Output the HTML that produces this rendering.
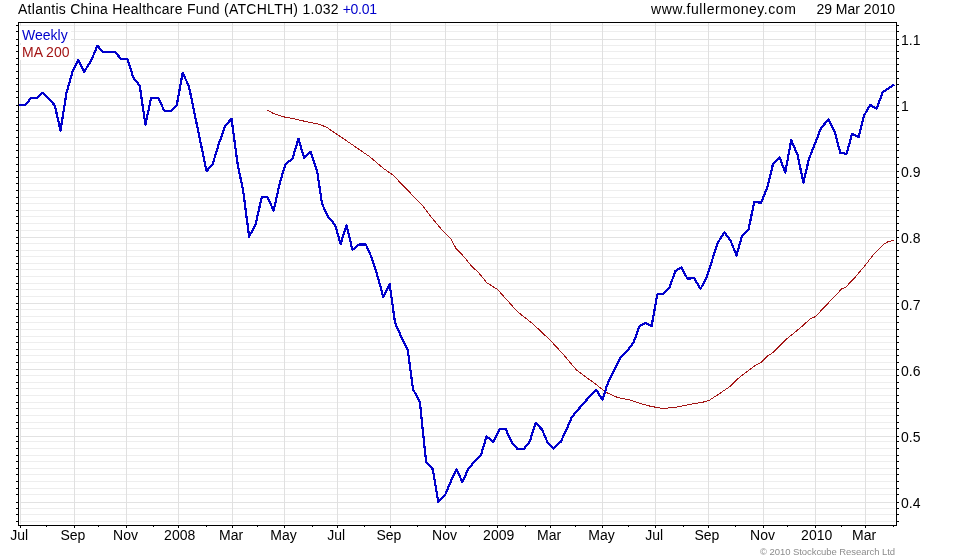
<!DOCTYPE html>
<html><head><meta charset="utf-8"><title>chart</title>
<style>
html,body{margin:0;padding:0;background:#fff;}
body{width:980px;height:560px;overflow:hidden;position:relative;font-family:"Liberation Sans",sans-serif;}
svg{position:absolute;left:0;top:0;display:block;will-change:transform}
text{font-family:"Liberation Sans",sans-serif;font-size:14px;fill:#000}
.g1{stroke:#eeeeee;stroke-width:1;shape-rendering:crispEdges}
.g2{stroke:#e2e2e2;stroke-width:1;shape-rendering:crispEdges}
.gv{stroke:#e0e0e0;stroke-width:1;shape-rendering:crispEdges}
.ax{stroke:#000;stroke-width:1;shape-rendering:crispEdges;fill:none}
</style></head><body>
<svg width="980" height="560" viewBox="0 0 980 560">
<rect x="0" y="0" width="980" height="560" fill="#fff"/>

<line class="g1" x1="21" x2="895" y1="521.5" y2="521.5"/>
<line class="g1" x1="21" x2="895" y1="514.5" y2="514.5"/>
<line class="g1" x1="21" x2="895" y1="508.5" y2="508.5"/>
<line class="g2" x1="21" x2="895" y1="502.5" y2="502.5"/>
<line class="g1" x1="21" x2="895" y1="494.5" y2="494.5"/>
<line class="g1" x1="21" x2="895" y1="488.5" y2="488.5"/>
<line class="g1" x1="21" x2="895" y1="481.5" y2="481.5"/>
<line class="g1" x1="21" x2="895" y1="474.5" y2="474.5"/>
<line class="g1" x1="21" x2="895" y1="468.5" y2="468.5"/>
<line class="g1" x1="21" x2="895" y1="461.5" y2="461.5"/>
<line class="g1" x1="21" x2="895" y1="455.5" y2="455.5"/>
<line class="g1" x1="21" x2="895" y1="448.5" y2="448.5"/>
<line class="g1" x1="21" x2="895" y1="441.5" y2="441.5"/>
<line class="g2" x1="21" x2="895" y1="436.5" y2="436.5"/>
<line class="g1" x1="21" x2="895" y1="428.5" y2="428.5"/>
<line class="g1" x1="21" x2="895" y1="422.5" y2="422.5"/>
<line class="g1" x1="21" x2="895" y1="415.5" y2="415.5"/>
<line class="g1" x1="21" x2="895" y1="408.5" y2="408.5"/>
<line class="g1" x1="21" x2="895" y1="402.5" y2="402.5"/>
<line class="g1" x1="21" x2="895" y1="395.5" y2="395.5"/>
<line class="g1" x1="21" x2="895" y1="388.5" y2="388.5"/>
<line class="g1" x1="21" x2="895" y1="382.5" y2="382.5"/>
<line class="g1" x1="21" x2="895" y1="375.5" y2="375.5"/>
<line class="g2" x1="21" x2="895" y1="369.5" y2="369.5"/>
<line class="g1" x1="21" x2="895" y1="362.5" y2="362.5"/>
<line class="g1" x1="21" x2="895" y1="355.5" y2="355.5"/>
<line class="g1" x1="21" x2="895" y1="349.5" y2="349.5"/>
<line class="g1" x1="21" x2="895" y1="342.5" y2="342.5"/>
<line class="g1" x1="21" x2="895" y1="336.5" y2="336.5"/>
<line class="g1" x1="21" x2="895" y1="329.5" y2="329.5"/>
<line class="g1" x1="21" x2="895" y1="322.5" y2="322.5"/>
<line class="g1" x1="21" x2="895" y1="316.5" y2="316.5"/>
<line class="g1" x1="21" x2="895" y1="309.5" y2="309.5"/>
<line class="g2" x1="21" x2="895" y1="303.5" y2="303.5"/>
<line class="g1" x1="21" x2="895" y1="296.5" y2="296.5"/>
<line class="g1" x1="21" x2="895" y1="289.5" y2="289.5"/>
<line class="g1" x1="21" x2="895" y1="283.5" y2="283.5"/>
<line class="g1" x1="21" x2="895" y1="276.5" y2="276.5"/>
<line class="g1" x1="21" x2="895" y1="269.5" y2="269.5"/>
<line class="g1" x1="21" x2="895" y1="263.5" y2="263.5"/>
<line class="g1" x1="21" x2="895" y1="256.5" y2="256.5"/>
<line class="g1" x1="21" x2="895" y1="250.5" y2="250.5"/>
<line class="g1" x1="21" x2="895" y1="243.5" y2="243.5"/>
<line class="g2" x1="21" x2="895" y1="237.5" y2="237.5"/>
<line class="g1" x1="21" x2="895" y1="230.5" y2="230.5"/>
<line class="g1" x1="21" x2="895" y1="223.5" y2="223.5"/>
<line class="g1" x1="21" x2="895" y1="216.5" y2="216.5"/>
<line class="g1" x1="21" x2="895" y1="210.5" y2="210.5"/>
<line class="g1" x1="21" x2="895" y1="203.5" y2="203.5"/>
<line class="g1" x1="21" x2="895" y1="197.5" y2="197.5"/>
<line class="g1" x1="21" x2="895" y1="190.5" y2="190.5"/>
<line class="g1" x1="21" x2="895" y1="183.5" y2="183.5"/>
<line class="g1" x1="21" x2="895" y1="177.5" y2="177.5"/>
<line class="g2" x1="21" x2="895" y1="171.5" y2="171.5"/>
<line class="g1" x1="21" x2="895" y1="164.5" y2="164.5"/>
<line class="g1" x1="21" x2="895" y1="157.5" y2="157.5"/>
<line class="g1" x1="21" x2="895" y1="150.5" y2="150.5"/>
<line class="g1" x1="21" x2="895" y1="144.5" y2="144.5"/>
<line class="g1" x1="21" x2="895" y1="137.5" y2="137.5"/>
<line class="g1" x1="21" x2="895" y1="130.5" y2="130.5"/>
<line class="g1" x1="21" x2="895" y1="124.5" y2="124.5"/>
<line class="g1" x1="21" x2="895" y1="117.5" y2="117.5"/>
<line class="g1" x1="21" x2="895" y1="111.5" y2="111.5"/>
<line class="g2" x1="21" x2="895" y1="105.5" y2="105.5"/>
<line class="g1" x1="21" x2="895" y1="97.5" y2="97.5"/>
<line class="g1" x1="21" x2="895" y1="91.5" y2="91.5"/>
<line class="g1" x1="21" x2="895" y1="84.5" y2="84.5"/>
<line class="g1" x1="21" x2="895" y1="78.5" y2="78.5"/>
<line class="g1" x1="21" x2="895" y1="71.5" y2="71.5"/>
<line class="g1" x1="21" x2="895" y1="64.5" y2="64.5"/>
<line class="g1" x1="21" x2="895" y1="58.5" y2="58.5"/>
<line class="g1" x1="21" x2="895" y1="51.5" y2="51.5"/>
<line class="g1" x1="21" x2="895" y1="45.5" y2="45.5"/>
<line class="g2" x1="21" x2="895" y1="39.5" y2="39.5"/>
<line class="g1" x1="21" x2="895" y1="31.5" y2="31.5"/>
<line class="g1" x1="21" x2="895" y1="25.5" y2="25.5"/>
<line class="gv" x1="20.5" x2="20.5" y1="23" y2="524"/>
<line class="gv" x1="74.5" x2="74.5" y1="23" y2="524"/>
<line class="gv" x1="126.5" x2="126.5" y1="23" y2="524"/>
<line class="gv" x1="178.5" x2="178.5" y1="23" y2="524"/>
<line class="gv" x1="232.5" x2="232.5" y1="23" y2="524"/>
<line class="gv" x1="284.5" x2="284.5" y1="23" y2="524"/>
<line class="gv" x1="337.5" x2="337.5" y1="23" y2="524"/>
<line class="gv" x1="390.5" x2="390.5" y1="23" y2="524"/>
<line class="gv" x1="445.5" x2="445.5" y1="23" y2="524"/>
<line class="gv" x1="497.5" x2="497.5" y1="23" y2="524"/>
<line class="gv" x1="550.5" x2="550.5" y1="23" y2="524"/>
<line class="gv" x1="602.5" x2="602.5" y1="23" y2="524"/>
<line class="gv" x1="655.5" x2="655.5" y1="23" y2="524"/>
<line class="gv" x1="708.5" x2="708.5" y1="23" y2="524"/>
<line class="gv" x1="763.5" x2="763.5" y1="23" y2="524"/>
<line class="gv" x1="815.5" x2="815.5" y1="23" y2="524"/>
<line class="gv" x1="865.5" x2="865.5" y1="23" y2="524"/>
<rect x="19" y="26" width="52" height="17" fill="#fff"/><rect x="19" y="45" width="54" height="15" fill="#fff"/>
<rect class="ax" x="18.5" y="22.5" width="878.0" height="503.0"/>
<line class="ax" x1="16" x2="18" y1="521.5" y2="521.5"/><line class="ax" x1="897" x2="899" y1="521.5" y2="521.5"/>
<line class="ax" x1="16" x2="18" y1="514.5" y2="514.5"/><line class="ax" x1="897" x2="899" y1="514.5" y2="514.5"/>
<line class="ax" x1="16" x2="18" y1="508.5" y2="508.5"/><line class="ax" x1="897" x2="899" y1="508.5" y2="508.5"/>
<line class="ax" x1="16" x2="18" y1="502.5" y2="502.5"/><line class="ax" x1="897" x2="899" y1="502.5" y2="502.5"/>
<line class="ax" x1="16" x2="18" y1="494.5" y2="494.5"/><line class="ax" x1="897" x2="899" y1="494.5" y2="494.5"/>
<line class="ax" x1="16" x2="18" y1="488.5" y2="488.5"/><line class="ax" x1="897" x2="899" y1="488.5" y2="488.5"/>
<line class="ax" x1="16" x2="18" y1="481.5" y2="481.5"/><line class="ax" x1="897" x2="899" y1="481.5" y2="481.5"/>
<line class="ax" x1="16" x2="18" y1="474.5" y2="474.5"/><line class="ax" x1="897" x2="899" y1="474.5" y2="474.5"/>
<line class="ax" x1="16" x2="18" y1="468.5" y2="468.5"/><line class="ax" x1="897" x2="899" y1="468.5" y2="468.5"/>
<line class="ax" x1="16" x2="18" y1="461.5" y2="461.5"/><line class="ax" x1="897" x2="899" y1="461.5" y2="461.5"/>
<line class="ax" x1="16" x2="18" y1="455.5" y2="455.5"/><line class="ax" x1="897" x2="899" y1="455.5" y2="455.5"/>
<line class="ax" x1="16" x2="18" y1="448.5" y2="448.5"/><line class="ax" x1="897" x2="899" y1="448.5" y2="448.5"/>
<line class="ax" x1="16" x2="18" y1="441.5" y2="441.5"/><line class="ax" x1="897" x2="899" y1="441.5" y2="441.5"/>
<line class="ax" x1="16" x2="18" y1="436.5" y2="436.5"/><line class="ax" x1="897" x2="899" y1="436.5" y2="436.5"/>
<line class="ax" x1="16" x2="18" y1="428.5" y2="428.5"/><line class="ax" x1="897" x2="899" y1="428.5" y2="428.5"/>
<line class="ax" x1="16" x2="18" y1="422.5" y2="422.5"/><line class="ax" x1="897" x2="899" y1="422.5" y2="422.5"/>
<line class="ax" x1="16" x2="18" y1="415.5" y2="415.5"/><line class="ax" x1="897" x2="899" y1="415.5" y2="415.5"/>
<line class="ax" x1="16" x2="18" y1="408.5" y2="408.5"/><line class="ax" x1="897" x2="899" y1="408.5" y2="408.5"/>
<line class="ax" x1="16" x2="18" y1="402.5" y2="402.5"/><line class="ax" x1="897" x2="899" y1="402.5" y2="402.5"/>
<line class="ax" x1="16" x2="18" y1="395.5" y2="395.5"/><line class="ax" x1="897" x2="899" y1="395.5" y2="395.5"/>
<line class="ax" x1="16" x2="18" y1="388.5" y2="388.5"/><line class="ax" x1="897" x2="899" y1="388.5" y2="388.5"/>
<line class="ax" x1="16" x2="18" y1="382.5" y2="382.5"/><line class="ax" x1="897" x2="899" y1="382.5" y2="382.5"/>
<line class="ax" x1="16" x2="18" y1="375.5" y2="375.5"/><line class="ax" x1="897" x2="899" y1="375.5" y2="375.5"/>
<line class="ax" x1="16" x2="18" y1="369.5" y2="369.5"/><line class="ax" x1="897" x2="899" y1="369.5" y2="369.5"/>
<line class="ax" x1="16" x2="18" y1="362.5" y2="362.5"/><line class="ax" x1="897" x2="899" y1="362.5" y2="362.5"/>
<line class="ax" x1="16" x2="18" y1="355.5" y2="355.5"/><line class="ax" x1="897" x2="899" y1="355.5" y2="355.5"/>
<line class="ax" x1="16" x2="18" y1="349.5" y2="349.5"/><line class="ax" x1="897" x2="899" y1="349.5" y2="349.5"/>
<line class="ax" x1="16" x2="18" y1="342.5" y2="342.5"/><line class="ax" x1="897" x2="899" y1="342.5" y2="342.5"/>
<line class="ax" x1="16" x2="18" y1="336.5" y2="336.5"/><line class="ax" x1="897" x2="899" y1="336.5" y2="336.5"/>
<line class="ax" x1="16" x2="18" y1="329.5" y2="329.5"/><line class="ax" x1="897" x2="899" y1="329.5" y2="329.5"/>
<line class="ax" x1="16" x2="18" y1="322.5" y2="322.5"/><line class="ax" x1="897" x2="899" y1="322.5" y2="322.5"/>
<line class="ax" x1="16" x2="18" y1="316.5" y2="316.5"/><line class="ax" x1="897" x2="899" y1="316.5" y2="316.5"/>
<line class="ax" x1="16" x2="18" y1="309.5" y2="309.5"/><line class="ax" x1="897" x2="899" y1="309.5" y2="309.5"/>
<line class="ax" x1="16" x2="18" y1="303.5" y2="303.5"/><line class="ax" x1="897" x2="899" y1="303.5" y2="303.5"/>
<line class="ax" x1="16" x2="18" y1="296.5" y2="296.5"/><line class="ax" x1="897" x2="899" y1="296.5" y2="296.5"/>
<line class="ax" x1="16" x2="18" y1="289.5" y2="289.5"/><line class="ax" x1="897" x2="899" y1="289.5" y2="289.5"/>
<line class="ax" x1="16" x2="18" y1="283.5" y2="283.5"/><line class="ax" x1="897" x2="899" y1="283.5" y2="283.5"/>
<line class="ax" x1="16" x2="18" y1="276.5" y2="276.5"/><line class="ax" x1="897" x2="899" y1="276.5" y2="276.5"/>
<line class="ax" x1="16" x2="18" y1="269.5" y2="269.5"/><line class="ax" x1="897" x2="899" y1="269.5" y2="269.5"/>
<line class="ax" x1="16" x2="18" y1="263.5" y2="263.5"/><line class="ax" x1="897" x2="899" y1="263.5" y2="263.5"/>
<line class="ax" x1="16" x2="18" y1="256.5" y2="256.5"/><line class="ax" x1="897" x2="899" y1="256.5" y2="256.5"/>
<line class="ax" x1="16" x2="18" y1="250.5" y2="250.5"/><line class="ax" x1="897" x2="899" y1="250.5" y2="250.5"/>
<line class="ax" x1="16" x2="18" y1="243.5" y2="243.5"/><line class="ax" x1="897" x2="899" y1="243.5" y2="243.5"/>
<line class="ax" x1="16" x2="18" y1="237.5" y2="237.5"/><line class="ax" x1="897" x2="899" y1="237.5" y2="237.5"/>
<line class="ax" x1="16" x2="18" y1="230.5" y2="230.5"/><line class="ax" x1="897" x2="899" y1="230.5" y2="230.5"/>
<line class="ax" x1="16" x2="18" y1="223.5" y2="223.5"/><line class="ax" x1="897" x2="899" y1="223.5" y2="223.5"/>
<line class="ax" x1="16" x2="18" y1="216.5" y2="216.5"/><line class="ax" x1="897" x2="899" y1="216.5" y2="216.5"/>
<line class="ax" x1="16" x2="18" y1="210.5" y2="210.5"/><line class="ax" x1="897" x2="899" y1="210.5" y2="210.5"/>
<line class="ax" x1="16" x2="18" y1="203.5" y2="203.5"/><line class="ax" x1="897" x2="899" y1="203.5" y2="203.5"/>
<line class="ax" x1="16" x2="18" y1="197.5" y2="197.5"/><line class="ax" x1="897" x2="899" y1="197.5" y2="197.5"/>
<line class="ax" x1="16" x2="18" y1="190.5" y2="190.5"/><line class="ax" x1="897" x2="899" y1="190.5" y2="190.5"/>
<line class="ax" x1="16" x2="18" y1="183.5" y2="183.5"/><line class="ax" x1="897" x2="899" y1="183.5" y2="183.5"/>
<line class="ax" x1="16" x2="18" y1="177.5" y2="177.5"/><line class="ax" x1="897" x2="899" y1="177.5" y2="177.5"/>
<line class="ax" x1="16" x2="18" y1="171.5" y2="171.5"/><line class="ax" x1="897" x2="899" y1="171.5" y2="171.5"/>
<line class="ax" x1="16" x2="18" y1="164.5" y2="164.5"/><line class="ax" x1="897" x2="899" y1="164.5" y2="164.5"/>
<line class="ax" x1="16" x2="18" y1="157.5" y2="157.5"/><line class="ax" x1="897" x2="899" y1="157.5" y2="157.5"/>
<line class="ax" x1="16" x2="18" y1="150.5" y2="150.5"/><line class="ax" x1="897" x2="899" y1="150.5" y2="150.5"/>
<line class="ax" x1="16" x2="18" y1="144.5" y2="144.5"/><line class="ax" x1="897" x2="899" y1="144.5" y2="144.5"/>
<line class="ax" x1="16" x2="18" y1="137.5" y2="137.5"/><line class="ax" x1="897" x2="899" y1="137.5" y2="137.5"/>
<line class="ax" x1="16" x2="18" y1="130.5" y2="130.5"/><line class="ax" x1="897" x2="899" y1="130.5" y2="130.5"/>
<line class="ax" x1="16" x2="18" y1="124.5" y2="124.5"/><line class="ax" x1="897" x2="899" y1="124.5" y2="124.5"/>
<line class="ax" x1="16" x2="18" y1="117.5" y2="117.5"/><line class="ax" x1="897" x2="899" y1="117.5" y2="117.5"/>
<line class="ax" x1="16" x2="18" y1="111.5" y2="111.5"/><line class="ax" x1="897" x2="899" y1="111.5" y2="111.5"/>
<line class="ax" x1="16" x2="18" y1="105.5" y2="105.5"/><line class="ax" x1="897" x2="899" y1="105.5" y2="105.5"/>
<line class="ax" x1="16" x2="18" y1="97.5" y2="97.5"/><line class="ax" x1="897" x2="899" y1="97.5" y2="97.5"/>
<line class="ax" x1="16" x2="18" y1="91.5" y2="91.5"/><line class="ax" x1="897" x2="899" y1="91.5" y2="91.5"/>
<line class="ax" x1="16" x2="18" y1="84.5" y2="84.5"/><line class="ax" x1="897" x2="899" y1="84.5" y2="84.5"/>
<line class="ax" x1="16" x2="18" y1="78.5" y2="78.5"/><line class="ax" x1="897" x2="899" y1="78.5" y2="78.5"/>
<line class="ax" x1="16" x2="18" y1="71.5" y2="71.5"/><line class="ax" x1="897" x2="899" y1="71.5" y2="71.5"/>
<line class="ax" x1="16" x2="18" y1="64.5" y2="64.5"/><line class="ax" x1="897" x2="899" y1="64.5" y2="64.5"/>
<line class="ax" x1="16" x2="18" y1="58.5" y2="58.5"/><line class="ax" x1="897" x2="899" y1="58.5" y2="58.5"/>
<line class="ax" x1="16" x2="18" y1="51.5" y2="51.5"/><line class="ax" x1="897" x2="899" y1="51.5" y2="51.5"/>
<line class="ax" x1="16" x2="18" y1="45.5" y2="45.5"/><line class="ax" x1="897" x2="899" y1="45.5" y2="45.5"/>
<line class="ax" x1="16" x2="18" y1="39.5" y2="39.5"/><line class="ax" x1="897" x2="899" y1="39.5" y2="39.5"/>
<line class="ax" x1="16" x2="18" y1="31.5" y2="31.5"/><line class="ax" x1="897" x2="899" y1="31.5" y2="31.5"/>
<line class="ax" x1="16" x2="18" y1="25.5" y2="25.5"/><line class="ax" x1="897" x2="899" y1="25.5" y2="25.5"/>
<line class="ax" x1="20.5" x2="20.5" y1="526" y2="528"/>
<line class="ax" x1="74.5" x2="74.5" y1="526" y2="528"/>
<line class="ax" x1="126.5" x2="126.5" y1="526" y2="528"/>
<line class="ax" x1="178.5" x2="178.5" y1="526" y2="528"/>
<line class="ax" x1="232.5" x2="232.5" y1="526" y2="528"/>
<line class="ax" x1="284.5" x2="284.5" y1="526" y2="528"/>
<line class="ax" x1="337.5" x2="337.5" y1="526" y2="528"/>
<line class="ax" x1="390.5" x2="390.5" y1="526" y2="528"/>
<line class="ax" x1="445.5" x2="445.5" y1="526" y2="528"/>
<line class="ax" x1="497.5" x2="497.5" y1="526" y2="528"/>
<line class="ax" x1="550.5" x2="550.5" y1="526" y2="528"/>
<line class="ax" x1="602.5" x2="602.5" y1="526" y2="528"/>
<line class="ax" x1="655.5" x2="655.5" y1="526" y2="528"/>
<line class="ax" x1="708.5" x2="708.5" y1="526" y2="528"/>
<line class="ax" x1="763.5" x2="763.5" y1="526" y2="528"/>
<line class="ax" x1="815.5" x2="815.5" y1="526" y2="528"/>
<line class="ax" x1="865.5" x2="865.5" y1="526" y2="528"/>
<line class="ax" x1="46.5" x2="46.5" y1="526" y2="527"/>
<line class="ax" x1="98.5" x2="98.5" y1="526" y2="527"/>
<line class="ax" x1="153.5" x2="153.5" y1="526" y2="527"/>
<line class="ax" x1="206.5" x2="206.5" y1="526" y2="527"/>
<line class="ax" x1="257.5" x2="257.5" y1="526" y2="527"/>
<line class="ax" x1="312.5" x2="312.5" y1="526" y2="527"/>
<line class="ax" x1="364.5" x2="364.5" y1="526" y2="527"/>
<line class="ax" x1="417.5" x2="417.5" y1="526" y2="527"/>
<line class="ax" x1="469.5" x2="469.5" y1="526" y2="527"/>
<line class="ax" x1="525.5" x2="525.5" y1="526" y2="527"/>
<line class="ax" x1="575.5" x2="575.5" y1="526" y2="527"/>
<line class="ax" x1="628.5" x2="628.5" y1="526" y2="527"/>
<line class="ax" x1="683.5" x2="683.5" y1="526" y2="527"/>
<line class="ax" x1="735.5" x2="735.5" y1="526" y2="527"/>
<line class="ax" x1="787.5" x2="787.5" y1="526" y2="527"/>
<line class="ax" x1="841.5" x2="841.5" y1="526" y2="527"/>
<line class="ax" x1="893.5" x2="893.5" y1="526" y2="527"/>
<polyline fill="none" stroke="#a31515" stroke-width="1" shape-rendering="crispEdges" stroke-linejoin="round" points="267.5,110.1 273.7,113.7 284.5,117.0 295.3,119.0 307.1,121.9 318.9,124.1 326.8,127.4 338.5,135.3 354.3,146.1 370.0,156.9 383.7,168.6 393.5,175.5 404.7,187.3 422.4,205.3 431.2,217.1 442.0,229.9 450.9,238.7 455.8,248.1 464.6,257.4 471.5,266.2 478.6,272.6 486.7,282.6 497.5,289.5 514.2,308.1 519.1,313.0 532.8,323.8 550.5,340.5 562.3,353.3 576.5,370.0 594.6,383.4 606.6,392.6 617.9,397.6 628.5,399.6 639.3,403.2 651.0,406.4 660.9,408.1 666.8,408.1 678.5,406.8 690.3,404.4 704.1,401.9 710.0,399.9 719.8,393.4 729.6,386.7 739.8,377.0 755.3,365.4 761.2,362.5 768.1,355.6 773.0,352.6 786.8,338.9 800.5,327.7 810.3,318.7 815.2,316.7 824.1,307.5 841.6,289.0 845.5,287.3 853.7,278.9 865.3,265.3 872.2,256.1 878.4,249.6 884.5,243.8 888.3,241.5 893.7,240.4"/>
<polyline fill="none" stroke="#0000cc" stroke-width="2.2" shape-rendering="crispEdges" stroke-linejoin="round" points="18.8,105.0 25.3,105.0 31.2,97.9 37.1,97.9 42.6,92.8 48.7,98.7 54.8,105.4 60.5,130.5 66.5,92.8 72.4,72.0 78.3,59.8 84.2,71.8 91.5,59.8 97.4,45.7 102.7,51.6 109.2,51.6 115.0,52.0 120.9,58.7 127.4,59.0 133.4,77.8 139.7,85.5 145.4,124.6 151.2,97.7 158.0,97.7 164.4,110.9 170.8,110.9 176.7,105.4 182.6,73.0 188.8,85.7 194.7,114.2 200.6,142.6 206.5,171.1 212.6,164.3 218.9,143.6 225.2,126.0 231.5,118.7 237.7,164.5 243.2,191.0 249.1,236.6 255.6,224.4 261.8,196.9 267.7,197.3 273.6,210.7 279.5,184.2 285.3,164.5 292.5,158.5 298.5,138.7 304.1,158.0 310.5,151.8 317.2,171.4 322.0,203.8 328.0,216.5 335.0,224.8 340.6,244.0 346.5,225.0 352.4,249.9 359.3,244.4 365.8,244.4 371.7,257.7 377.6,276.4 383.3,297.1 389.6,283.8 395.0,322.6 401.2,336.8 407.8,350.4 413.0,389.1 419.9,402.4 426.1,462.0 432.8,469.3 438.3,501.9 445.2,494.8 450.7,481.7 456.5,469.3 462.4,482.1 468.3,468.9 474.6,461.4 480.9,455.2 486.5,436.5 493.4,441.8 499.5,429.0 505.7,429.0 511.4,441.8 517.4,448.9 524.0,448.8 529.7,441.7 535.6,422.9 542.0,429.5 547.5,442.3 553.4,448.8 560.8,441.7 566.5,429.5 572.0,416.8 577.9,409.9 583.8,403.0 589.7,396.5 596.2,389.9 602.5,399.7 607.2,384.8 613.8,370.5 619.8,358.5 627.5,350.7 633.8,342.0 639.3,326.4 645.6,322.8 651.6,326.2 657.3,294.4 663.2,294.0 669.7,287.1 675.2,271.2 681.5,267.3 687.4,278.7 694.2,278.1 700.5,288.9 706.6,277.7 712.2,260.0 717.9,242.6 724.4,232.2 730.6,240.7 736.5,255.4 742.0,235.8 748.5,229.9 754.2,201.8 761.1,202.8 767.6,186.5 773.0,164.0 779.5,157.2 785.3,172.5 791.2,140.1 797.5,154.8 803.4,182.5 808.9,159.1 815.2,143.0 821.1,127.9 828.5,119.5 834.8,132.2 840.3,152.8 846.6,153.8 852.1,133.6 858.6,137.1 864.0,115.6 870.3,104.9 876.7,108.8 882.5,92.5 887.9,88.7 894.1,84.7"/>
<text x="18" y="13.5" style="letter-spacing:0.27px">Atlantis China Healthcare Fund (ATCHLTH) 1.032</text>
<text x="342.7" y="13.5" style="fill:#0000cc;letter-spacing:-0.3px">+0.01</text>
<text x="651" y="13.5" style="letter-spacing:0.54px">www.fullermoney.com</text>
<text x="895" y="13.5" text-anchor="end">29 Mar 2010</text>
<text x="22" y="40" fill="#0000cc" style="fill:#0000cc">Weekly</text>
<text x="22" y="56.5" style="fill:#a31515">MA 200</text>
<text x="901" y="45.0">1.1</text>
<text x="901" y="111.1">1</text>
<text x="901" y="177.3">0.9</text>
<text x="901" y="243.4">0.8</text>
<text x="901" y="309.6">0.7</text>
<text x="901" y="375.7">0.6</text>
<text x="901" y="441.9">0.5</text>
<text x="901" y="508.0">0.4</text>
<text x="19.1" y="540" text-anchor="middle">Jul</text>
<text x="72.9" y="540" text-anchor="middle">Sep</text>
<text x="125.5" y="540" text-anchor="middle">Nov</text>
<text x="179.7" y="540" text-anchor="middle">2008</text>
<text x="231.1" y="540" text-anchor="middle">Mar</text>
<text x="283.6" y="540" text-anchor="middle">May</text>
<text x="336.1" y="540" text-anchor="middle">Jul</text>
<text x="388.9" y="540" text-anchor="middle">Sep</text>
<text x="444.5" y="540" text-anchor="middle">Nov</text>
<text x="498.7" y="540" text-anchor="middle">2009</text>
<text x="549.1" y="540" text-anchor="middle">Mar</text>
<text x="601.6" y="540" text-anchor="middle">May</text>
<text x="654.1" y="540" text-anchor="middle">Jul</text>
<text x="706.9" y="540" text-anchor="middle">Sep</text>
<text x="762.5" y="540" text-anchor="middle">Nov</text>
<text x="816.7" y="540" text-anchor="middle">2010</text>
<text x="864.1" y="540" text-anchor="middle">Mar</text>
<text x="895" y="555" text-anchor="end" style="font-size:9.5px;fill:#8c8c8c;letter-spacing:-0.07px">© 2010 Stockcube Research Ltd</text>
</svg></body></html>
